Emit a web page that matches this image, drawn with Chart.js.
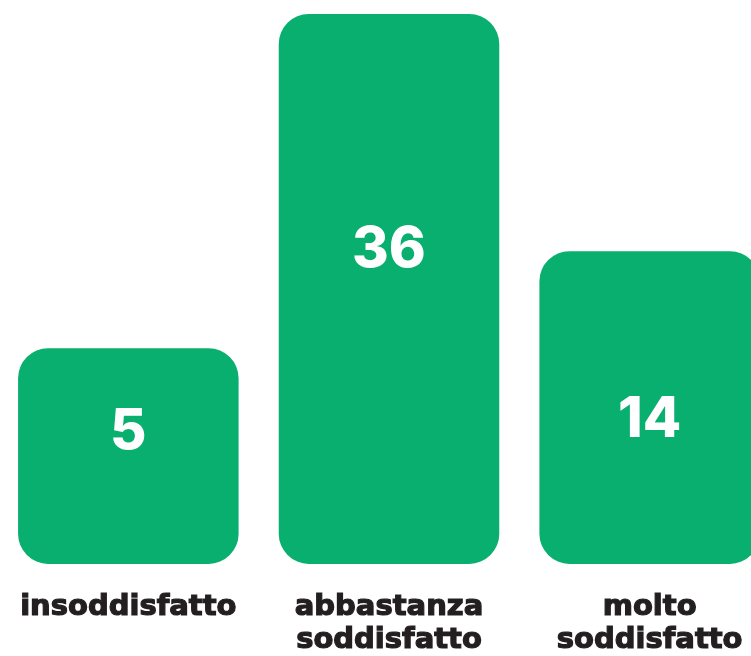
<!DOCTYPE html>
<html>
<head>
<meta charset="utf-8">
<script src="https://cdn.jsdelivr.net/npm/chart.js@4/dist/chart.umd.min.js"></script>
<style>
  html, body { margin: 0; padding: 0; background: #fff; overflow: hidden; }
  /* canvas is a bit wider and taller than the window: the last bar is cut at the right edge */
  #wrap { position: absolute; left: -2px; top: 0; width: 782px; height: 684px; }
</style>
</head>
<body>
<div id="wrap"><canvas id="chart"></canvas></div>
<script>
const categories = [["insoddisfatto"], ["abbastanza", "soddisfatto"], ["molto", "soddisfatto"]];
const values = [5, 36, 14];

const green = "#09af6f";
const dark = "#231f20";

// white number inside each bar, placed at a share of the bar's height
const valueLabels = {
  id: "valueLabels",
  afterDatasetsDraw(chart, args, opts) {
    const ctx = chart.ctx;
    const meta = chart.getDatasetMeta(0);
    ctx.save();
    ctx.fillStyle = "#fff";
    ctx.font = "800 56px Inter";
    ctx.textAlign = "center";
    ctx.textBaseline = "middle";
    meta.data.forEach((bar, i) => {
      const f = opts.at[i];
      ctx.fillText(values[i], bar.x, bar.y + (bar.base - bar.y) * f);
    });
    ctx.restore();
  }
};

new Chart(document.getElementById("chart"), {
  type: "bar",
  data: {
    labels: categories,
    datasets: [{
      data: values,
      base: -15,
      backgroundColor: green,
      borderWidth: 0,
      borderRadius: 30,
      borderSkipped: false,
      barPercentage: 0.846,
      categoryPercentage: 1
    }]
  },
  options: {
    responsive: true,
    maintainAspectRatio: false,
    animation: false,
    layout: { padding: 0 },
    plugins: {
      legend: { display: false },
      tooltip: { enabled: false },
      valueLabels: { at: [0.39, 0.43, 0.54] }
    },
    scales: {
      x: {
        grid: { display: false, drawTicks: false, tickLength: 0 },
        border: { display: false },
        // the wide first label should not push the bars to the right
        afterFit(scale) {
          scale.paddingLeft = 0;
          scale.paddingRight = 0;
        },
        ticks: {
          color: dark,
          textStrokeColor: dark,
          textStrokeWidth: 1.2,
          padding: 27,
          maxRotation: 0,
          autoSkip: false,
          font: { family: "DejaVu Sans", weight: "bold", size: 29, lineHeight: 1.14 }
        }
      },
      y: {
        display: false,
        min: -15,
        max: 37.3
      }
    }
  },
  plugins: [valueLabels]
});
</script>
</body>
</html>
